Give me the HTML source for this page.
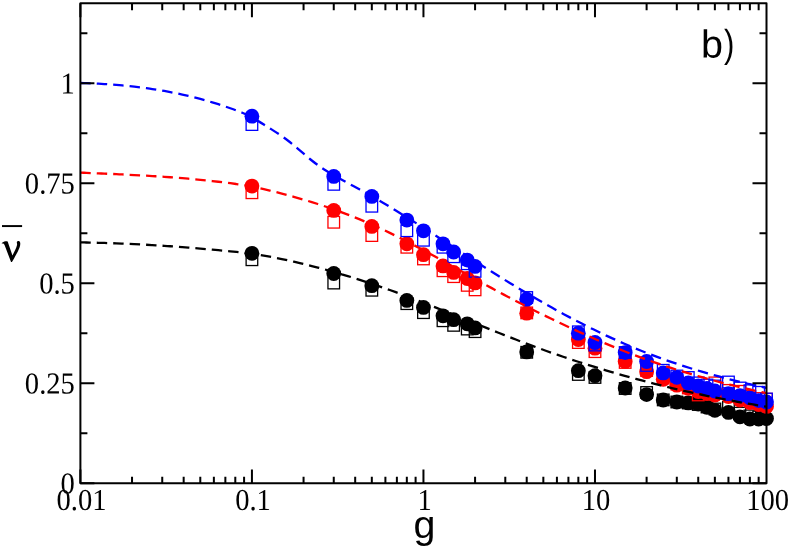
<!DOCTYPE html>
<html><head><meta charset="utf-8"><title>chart</title>
<style>
html,body{margin:0;padding:0;background:#fff;}
body{width:789px;height:548px;overflow:hidden;font-family:"Liberation Sans",sans-serif;}
svg{display:block;opacity:0.999;will-change:transform;}
</style></head><body>
<svg width="789" height="548" viewBox="0 0 789 548">
<rect width="789" height="548" fill="#fff"/>
<g fill="none" stroke="#000000" stroke-width="1.30">
<rect x="246.12" y="253.95" width="11.60" height="11.60"/>
<rect x="327.96" y="277.25" width="11.60" height="11.60"/>
<rect x="366.02" y="284.45" width="11.60" height="11.60"/>
<rect x="401.03" y="297.85" width="11.60" height="11.60"/>
<rect x="417.65" y="306.85" width="11.60" height="11.60"/>
<rect x="437.19" y="314.95" width="11.60" height="11.60"/>
<rect x="447.85" y="319.55" width="11.60" height="11.60"/>
<rect x="461.44" y="323.25" width="11.60" height="11.60"/>
<rect x="469.28" y="325.85" width="11.60" height="11.60"/>
<rect x="520.92" y="346.50" width="11.60" height="11.60"/>
<rect x="572.55" y="368.65" width="11.60" height="11.60"/>
<rect x="589.18" y="371.65" width="11.60" height="11.60"/>
<rect x="619.38" y="382.70" width="11.60" height="11.60"/>
<rect x="640.81" y="386.70" width="11.60" height="11.60"/>
<rect x="657.43" y="394.10" width="11.60" height="11.60"/>
<rect x="671.01" y="396.20" width="11.60" height="11.60"/>
<rect x="682.50" y="397.20" width="11.60" height="11.60"/>
<rect x="692.44" y="398.70" width="11.60" height="11.60"/>
<rect x="701.22" y="401.20" width="11.60" height="11.60"/>
<rect x="709.07" y="403.20" width="11.60" height="11.60"/>
<rect x="722.65" y="401.70" width="11.60" height="11.60"/>
<rect x="734.13" y="407.40" width="11.60" height="11.60"/>
<rect x="744.08" y="410.10" width="11.60" height="11.60"/>
<rect x="752.85" y="411.20" width="11.60" height="11.60"/>
</g>
<g fill="#000000">
<circle cx="251.93" cy="253.30" r="7.40"/>
<circle cx="333.76" cy="273.50" r="7.40"/>
<circle cx="371.82" cy="285.70" r="7.40"/>
<circle cx="406.83" cy="300.40" r="7.40"/>
<circle cx="423.45" cy="307.40" r="7.40"/>
<circle cx="442.99" cy="315.80" r="7.40"/>
<circle cx="453.65" cy="319.70" r="7.40"/>
<circle cx="467.24" cy="323.80" r="7.40"/>
<circle cx="475.08" cy="327.90" r="7.40"/>
<circle cx="526.72" cy="351.90" r="7.40"/>
<circle cx="578.35" cy="370.70" r="7.40"/>
<circle cx="594.98" cy="375.70" r="7.40"/>
<circle cx="625.18" cy="388.00" r="7.40"/>
<circle cx="646.61" cy="394.60" r="7.40"/>
<circle cx="663.23" cy="400.00" r="7.40"/>
<circle cx="676.81" cy="402.00" r="7.40"/>
<circle cx="688.30" cy="402.90" r="7.40"/>
<circle cx="698.24" cy="404.00" r="7.40"/>
<circle cx="707.02" cy="407.30" r="7.40"/>
<circle cx="714.87" cy="410.30" r="7.40"/>
<circle cx="728.45" cy="412.40" r="7.40"/>
<circle cx="739.93" cy="416.80" r="7.40"/>
<circle cx="749.88" cy="419.00" r="7.40"/>
<circle cx="758.65" cy="419.00" r="7.40"/>
<circle cx="766.50" cy="418.50" r="7.40"/>
</g>
<g fill="none" stroke="#ff0000" stroke-width="1.30">
<rect x="246.12" y="186.95" width="11.60" height="11.60"/>
<rect x="327.96" y="216.45" width="11.60" height="11.60"/>
<rect x="366.02" y="229.75" width="11.60" height="11.60"/>
<rect x="401.03" y="241.45" width="11.60" height="11.60"/>
<rect x="417.65" y="253.15" width="11.60" height="11.60"/>
<rect x="437.19" y="264.95" width="11.60" height="11.60"/>
<rect x="447.85" y="270.85" width="11.60" height="11.60"/>
<rect x="461.44" y="279.55" width="11.60" height="11.60"/>
<rect x="469.28" y="284.05" width="11.60" height="11.60"/>
<rect x="520.92" y="307.10" width="11.60" height="11.60"/>
<rect x="572.55" y="336.75" width="11.60" height="11.60"/>
<rect x="589.18" y="345.85" width="11.60" height="11.60"/>
<rect x="619.38" y="356.65" width="11.60" height="11.60"/>
<rect x="640.81" y="364.70" width="11.60" height="11.60"/>
<rect x="657.43" y="372.20" width="11.60" height="11.60"/>
<rect x="671.01" y="378.20" width="11.60" height="11.60"/>
<rect x="682.50" y="382.20" width="11.60" height="11.60"/>
<rect x="692.44" y="389.15" width="11.60" height="11.60"/>
<rect x="701.22" y="386.20" width="11.60" height="11.60"/>
<rect x="709.07" y="377.10" width="11.60" height="11.60"/>
<rect x="722.65" y="384.60" width="11.60" height="11.60"/>
<rect x="734.13" y="385.50" width="11.60" height="11.60"/>
<rect x="744.08" y="390.70" width="11.60" height="11.60"/>
<rect x="752.85" y="392.70" width="11.60" height="11.60"/>
<rect x="760.70" y="393.40" width="11.60" height="11.60"/>
</g>
<g fill="#ff0000">
<circle cx="251.93" cy="186.10" r="7.40"/>
<circle cx="333.76" cy="210.40" r="7.40"/>
<circle cx="371.82" cy="226.40" r="7.40"/>
<circle cx="406.83" cy="243.80" r="7.40"/>
<circle cx="423.45" cy="254.70" r="7.40"/>
<circle cx="442.99" cy="265.90" r="7.40"/>
<circle cx="453.65" cy="272.40" r="7.40"/>
<circle cx="467.24" cy="278.50" r="7.40"/>
<circle cx="475.08" cy="282.90" r="7.40"/>
<circle cx="526.72" cy="313.20" r="7.40"/>
<circle cx="578.35" cy="339.50" r="7.40"/>
<circle cx="594.98" cy="348.20" r="7.40"/>
<circle cx="625.18" cy="361.40" r="7.40"/>
<circle cx="646.61" cy="371.70" r="7.40"/>
<circle cx="663.23" cy="379.30" r="7.40"/>
<circle cx="676.81" cy="385.20" r="7.40"/>
<circle cx="688.30" cy="388.30" r="7.40"/>
<circle cx="698.24" cy="391.50" r="7.40"/>
<circle cx="707.02" cy="393.50" r="7.40"/>
<circle cx="714.87" cy="395.00" r="7.40"/>
<circle cx="728.45" cy="396.50" r="7.40"/>
<circle cx="739.93" cy="400.00" r="7.40"/>
<circle cx="749.88" cy="402.50" r="7.40"/>
<circle cx="758.65" cy="404.50" r="7.40"/>
<circle cx="766.50" cy="406.40" r="7.40"/>
</g>
<g fill="none" stroke="#0000ff" stroke-width="1.30">
<rect x="246.12" y="118.75" width="11.60" height="11.60"/>
<rect x="327.96" y="178.55" width="11.60" height="11.60"/>
<rect x="366.02" y="200.45" width="11.60" height="11.60"/>
<rect x="401.03" y="224.95" width="11.60" height="11.60"/>
<rect x="417.65" y="234.45" width="11.60" height="11.60"/>
<rect x="437.19" y="241.45" width="11.60" height="11.60"/>
<rect x="447.85" y="250.95" width="11.60" height="11.60"/>
<rect x="461.44" y="257.95" width="11.60" height="11.60"/>
<rect x="469.28" y="265.55" width="11.60" height="11.60"/>
<rect x="520.92" y="291.70" width="11.60" height="11.60"/>
<rect x="572.55" y="326.00" width="11.60" height="11.60"/>
<rect x="589.18" y="339.25" width="11.60" height="11.60"/>
<rect x="619.38" y="346.70" width="11.60" height="11.60"/>
<rect x="640.81" y="359.65" width="11.60" height="11.60"/>
<rect x="657.43" y="364.50" width="11.60" height="11.60"/>
<rect x="671.01" y="370.20" width="11.60" height="11.60"/>
<rect x="682.50" y="371.70" width="11.60" height="11.60"/>
<rect x="692.44" y="377.10" width="11.60" height="11.60"/>
<rect x="701.22" y="379.20" width="11.60" height="11.60"/>
<rect x="709.07" y="380.20" width="11.60" height="11.60"/>
<rect x="722.65" y="376.20" width="11.60" height="11.60"/>
<rect x="734.13" y="382.20" width="11.60" height="11.60"/>
<rect x="744.08" y="384.90" width="11.60" height="11.60"/>
<rect x="752.85" y="386.50" width="11.60" height="11.60"/>
<rect x="760.70" y="393.20" width="11.60" height="11.60"/>
</g>
<g fill="#0000ff">
<circle cx="251.93" cy="116.20" r="7.40"/>
<circle cx="333.76" cy="176.40" r="7.40"/>
<circle cx="371.82" cy="196.40" r="7.40"/>
<circle cx="406.83" cy="220.10" r="7.40"/>
<circle cx="423.45" cy="230.80" r="7.40"/>
<circle cx="442.99" cy="243.80" r="7.40"/>
<circle cx="453.65" cy="252.00" r="7.40"/>
<circle cx="467.24" cy="260.10" r="7.40"/>
<circle cx="475.08" cy="266.40" r="7.40"/>
<circle cx="526.72" cy="299.20" r="7.40"/>
<circle cx="578.35" cy="333.20" r="7.40"/>
<circle cx="594.98" cy="342.50" r="7.40"/>
<circle cx="625.18" cy="352.60" r="7.40"/>
<circle cx="646.61" cy="361.50" r="7.40"/>
<circle cx="663.23" cy="372.90" r="7.40"/>
<circle cx="676.81" cy="377.30" r="7.40"/>
<circle cx="688.30" cy="383.00" r="7.40"/>
<circle cx="698.24" cy="386.00" r="7.40"/>
<circle cx="707.02" cy="388.50" r="7.40"/>
<circle cx="714.87" cy="391.00" r="7.40"/>
<circle cx="728.45" cy="393.70" r="7.40"/>
<circle cx="739.93" cy="395.60" r="7.40"/>
<circle cx="749.88" cy="397.80" r="7.40"/>
<circle cx="758.65" cy="400.60" r="7.40"/>
<circle cx="766.50" cy="402.00" r="7.40"/>
</g>
<path d="M80.30 242.40 C81.30 242.42 84.30 242.47 86.30 242.51 C88.30 242.54 90.30 242.59 92.30 242.63 C94.30 242.68 96.30 242.73 98.30 242.78 C100.30 242.84 102.30 242.89 104.30 242.95 C106.30 243.02 108.30 243.08 110.30 243.15 C112.30 243.22 114.30 243.29 116.30 243.37 C118.30 243.44 120.30 243.52 122.30 243.60 C124.30 243.69 126.30 243.77 128.30 243.86 C130.30 243.95 132.30 244.05 134.30 244.15 C136.30 244.24 138.30 244.34 140.30 244.45 C142.30 244.55 144.30 244.66 146.30 244.77 C148.30 244.88 150.30 245.00 152.30 245.12 C154.30 245.23 156.30 245.36 158.30 245.48 C160.30 245.60 162.30 245.73 164.30 245.86 C166.30 246.00 168.30 246.13 170.30 246.27 C172.30 246.41 174.30 246.55 176.30 246.69 C178.30 246.84 180.30 246.99 182.30 247.14 C184.30 247.29 186.30 247.44 188.30 247.60 C190.30 247.76 192.30 247.92 194.30 248.08 C196.30 248.24 198.30 248.41 200.30 248.58 C202.30 248.75 204.30 248.92 206.30 249.10 C208.30 249.27 210.30 249.45 212.30 249.63 C214.30 249.82 216.30 250.00 218.30 250.19 C220.30 250.38 222.30 250.57 224.30 250.76 C226.30 250.95 228.30 251.15 230.30 251.35 C232.30 251.55 234.30 251.75 236.30 251.96 C238.30 252.16 240.30 252.37 242.30 252.58 C244.30 252.79 246.72 253.05 248.30 253.22 C249.88 253.39 251.22 253.55 251.80 253.61 L251.80 253.61 C252.80 253.77 255.80 254.26 257.80 254.59 C259.80 254.93 261.80 255.27 263.80 255.63 C265.80 255.99 267.80 256.35 269.80 256.73 C271.80 257.10 273.80 257.49 275.80 257.88 C277.80 258.28 279.80 258.68 281.80 259.10 C283.80 259.51 285.80 259.93 287.80 260.37 C289.80 260.80 291.80 261.24 293.80 261.70 C295.80 262.15 297.80 262.61 299.80 263.08 C301.80 263.55 303.80 264.03 305.80 264.52 C307.80 265.01 309.80 265.51 311.80 266.02 C313.80 266.52 315.80 267.04 317.80 267.57 C319.80 268.09 321.80 268.63 323.80 269.17 C325.80 269.71 327.80 270.26 329.80 270.82 C331.80 271.38 333.80 271.95 335.80 272.53 C337.80 273.10 339.80 273.69 341.80 274.28 C343.80 274.87 345.80 275.48 347.80 276.09 C349.80 276.69 351.80 277.31 353.80 277.94 C355.80 278.56 357.80 279.20 359.80 279.84 C361.80 280.48 363.80 281.13 365.80 281.79 C367.80 282.44 369.80 283.11 371.80 283.78 C373.80 284.45 375.80 285.13 377.80 285.82 C379.80 286.51 381.80 287.20 383.80 287.90 C385.80 288.61 387.80 289.31 389.80 290.03 C391.80 290.75 393.80 291.47 395.80 292.20 C397.80 292.93 399.80 293.67 401.80 294.41 C403.80 295.15 405.80 295.90 407.80 296.66 C409.80 297.41 411.80 298.17 413.80 298.94 C415.80 299.71 417.80 300.48 419.80 301.25 C421.80 302.03 423.80 302.81 425.80 303.59 C427.80 304.37 429.80 305.16 431.80 305.95 C433.80 306.74 435.80 307.54 437.80 308.33 C439.80 309.13 441.80 309.93 443.80 310.73 C445.80 311.53 447.80 312.34 449.80 313.14 C451.80 313.95 453.80 314.75 455.80 315.56 C457.80 316.37 459.80 317.18 461.80 317.99 C463.80 318.80 465.80 319.61 467.80 320.42 C469.80 321.23 471.80 322.04 473.80 322.85 C475.80 323.66 477.80 324.47 479.80 325.27 C481.80 326.08 483.80 326.89 485.80 327.69 C487.80 328.50 489.80 329.30 491.80 330.10 C493.80 330.90 495.80 331.70 497.80 332.49 C499.80 333.28 501.80 334.08 503.80 334.86 C505.80 335.65 507.80 336.44 509.80 337.22 C511.80 338.00 513.80 338.77 515.80 339.55 C517.80 340.32 519.80 341.09 521.80 341.85 C523.80 342.61 525.80 343.37 527.80 344.12 C529.80 344.87 531.80 345.61 533.80 346.35 C535.80 347.09 537.80 347.82 539.80 348.55 C541.80 349.27 543.80 349.99 545.80 350.71 C547.80 351.42 549.80 352.13 551.80 352.83 C553.80 353.53 555.80 354.23 557.80 354.92 C559.80 355.61 561.80 356.29 563.80 356.97 C565.80 357.65 567.80 358.32 569.80 358.99 C571.80 359.66 573.80 360.32 575.80 360.97 C577.80 361.63 579.80 362.27 581.80 362.92 C583.80 363.56 585.80 364.20 587.80 364.83 C589.80 365.46 591.80 366.08 593.80 366.70 C595.80 367.32 597.80 367.94 599.80 368.54 C601.80 369.15 603.80 369.75 605.80 370.35 C607.80 370.95 609.80 371.54 611.80 372.12 C613.80 372.71 615.80 373.29 617.80 373.86 C619.80 374.44 621.80 375.01 623.80 375.57 C625.80 376.13 627.80 376.69 629.80 377.24 C631.80 377.79 633.80 378.34 635.80 378.88 C637.80 379.42 639.80 379.95 641.80 380.48 C643.80 381.01 645.80 381.54 647.80 382.05 C649.80 382.57 651.80 383.09 653.80 383.59 C655.80 384.10 657.80 384.60 659.80 385.10 C661.80 385.60 663.80 386.09 665.80 386.57 C667.80 387.06 669.80 387.54 671.80 388.02 C673.80 388.49 675.80 388.96 677.80 389.43 C679.80 389.89 681.80 390.35 683.80 390.80 C685.80 391.26 687.80 391.71 689.80 392.15 C691.80 392.60 693.80 393.03 695.80 393.47 C697.80 393.90 699.80 394.33 701.80 394.75 C703.80 395.18 705.80 395.59 707.80 396.01 C709.80 396.42 711.80 396.83 713.80 397.23 C715.80 397.63 717.80 398.03 719.80 398.42 C721.80 398.82 723.80 399.20 725.80 399.59 C727.80 399.97 729.80 400.35 731.80 400.72 C733.80 401.09 735.80 401.46 737.80 401.82 C739.80 402.19 741.80 402.54 743.80 402.90 C745.80 403.25 747.80 403.60 749.80 403.94 C751.80 404.28 753.80 404.62 755.80 404.96 C757.80 405.29 760.03 405.65 761.80 405.94 C763.57 406.23 765.63 406.56 766.40 406.68" fill="none" stroke="#000000" stroke-width="2.30" stroke-dasharray="10.44 6.02" stroke-dashoffset="0"/>
<path d="M80.30 172.60 C81.30 172.64 84.30 172.76 86.30 172.85 C88.30 172.93 90.30 173.01 92.30 173.10 C94.30 173.18 96.30 173.27 98.30 173.35 C100.30 173.44 102.30 173.52 104.30 173.61 C106.30 173.70 108.30 173.78 110.30 173.87 C112.30 173.96 114.30 174.05 116.30 174.15 C118.30 174.24 120.30 174.34 122.30 174.43 C124.30 174.53 126.30 174.63 128.30 174.73 C130.30 174.83 132.30 174.93 134.30 175.04 C136.30 175.14 138.30 175.25 140.30 175.36 C142.30 175.47 144.30 175.59 146.30 175.70 C148.30 175.82 150.30 175.94 152.30 176.06 C154.30 176.19 156.30 176.31 158.30 176.44 C160.30 176.57 162.30 176.71 164.30 176.85 C166.30 176.99 168.30 177.13 170.30 177.27 C172.30 177.42 174.30 177.57 176.30 177.73 C178.30 177.88 180.30 178.04 182.30 178.20 C184.30 178.37 186.30 178.54 188.30 178.71 C190.30 178.89 192.30 179.07 194.30 179.25 C196.30 179.44 198.30 179.63 200.30 179.82 C202.30 180.02 204.30 180.22 206.30 180.43 C208.30 180.63 210.30 180.85 212.30 181.07 C214.30 181.29 216.30 181.51 218.30 181.75 C220.30 181.98 222.30 182.22 224.30 182.46 C226.30 182.71 228.30 182.96 230.30 183.22 C232.30 183.48 234.30 183.75 236.30 184.02 C238.30 184.29 240.30 184.57 242.30 184.86 C244.30 185.15 246.72 185.51 248.30 185.75 C249.88 185.99 251.22 186.20 251.80 186.30 L251.80 186.30 C252.80 186.53 255.80 187.21 257.80 187.68 C259.80 188.15 261.80 188.62 263.80 189.10 C265.80 189.58 267.80 190.06 269.80 190.55 C271.80 191.05 273.80 191.55 275.80 192.05 C277.80 192.56 279.80 193.07 281.80 193.60 C283.80 194.12 285.80 194.65 287.80 195.19 C289.80 195.73 291.80 196.28 293.80 196.84 C295.80 197.39 297.80 197.96 299.80 198.54 C301.80 199.12 303.80 199.70 305.80 200.30 C307.80 200.90 309.80 201.51 311.80 202.13 C313.80 202.75 315.80 203.38 317.80 204.02 C319.80 204.66 321.80 205.32 323.80 205.99 C325.80 206.65 327.80 207.33 329.80 208.02 C331.80 208.71 333.80 209.42 335.80 210.14 C337.80 210.85 339.80 211.58 341.80 212.33 C343.80 213.07 345.80 213.83 347.80 214.60 C349.80 215.37 351.80 216.15 353.80 216.95 C355.80 217.75 357.80 218.56 359.80 219.39 C361.80 220.22 363.80 221.06 365.80 221.91 C367.80 222.77 369.80 223.64 371.80 224.53 C373.80 225.42 375.80 226.32 377.80 227.24 C379.80 228.16 381.80 229.09 383.80 230.03 C385.80 230.98 387.80 231.94 389.80 232.91 C391.80 233.88 393.80 234.86 395.80 235.86 C397.80 236.85 399.80 237.86 401.80 238.88 C403.80 239.89 405.80 240.92 407.80 241.96 C409.80 242.99 411.80 244.04 413.80 245.09 C415.80 246.14 417.80 247.21 419.80 248.28 C421.80 249.35 423.80 250.42 425.80 251.50 C427.80 252.59 429.80 253.68 431.80 254.77 C433.80 255.86 435.80 256.96 437.80 258.07 C439.80 259.17 441.80 260.28 443.80 261.39 C445.80 262.50 447.80 263.61 449.80 264.73 C451.80 265.85 453.80 266.97 455.80 268.08 C457.80 269.20 459.80 270.32 461.80 271.44 C463.80 272.56 465.80 273.69 467.80 274.81 C469.80 275.92 471.80 277.04 473.80 278.16 C475.80 279.28 477.80 280.39 479.80 281.50 C481.80 282.61 483.80 283.72 485.80 284.83 C487.80 285.93 489.80 287.03 491.80 288.13 C493.80 289.22 495.80 290.32 497.80 291.40 C499.80 292.48 501.80 293.56 503.80 294.63 C505.80 295.71 507.80 296.77 509.80 297.83 C511.80 298.88 513.80 299.93 515.80 300.97 C517.80 302.02 519.80 303.05 521.80 304.08 C523.80 305.11 525.80 306.13 527.80 307.15 C529.80 308.16 531.80 309.17 533.80 310.17 C535.80 311.17 537.80 312.17 539.80 313.16 C541.80 314.15 543.80 315.13 545.80 316.11 C547.80 317.09 549.80 318.06 551.80 319.02 C553.80 319.99 555.80 320.95 557.80 321.90 C559.80 322.85 561.80 323.80 563.80 324.75 C565.80 325.69 567.80 326.63 569.80 327.56 C571.80 328.49 573.80 329.42 575.80 330.34 C577.80 331.25 579.80 332.17 581.80 333.08 C583.80 333.98 585.80 334.88 587.80 335.77 C589.80 336.67 591.80 337.55 593.80 338.43 C595.80 339.31 597.80 340.18 599.80 341.04 C601.80 341.91 603.80 342.76 605.80 343.61 C607.80 344.45 609.80 345.29 611.80 346.12 C613.80 346.95 615.80 347.77 617.80 348.57 C619.80 349.38 621.80 350.19 623.80 350.98 C625.80 351.77 627.80 352.55 629.80 353.32 C631.80 354.09 633.80 354.85 635.80 355.60 C637.80 356.35 639.80 357.09 641.80 357.83 C643.80 358.56 645.80 359.28 647.80 360.00 C649.80 360.71 651.80 361.42 653.80 362.11 C655.80 362.81 657.80 363.49 659.80 364.17 C661.80 364.85 663.80 365.52 665.80 366.18 C667.80 366.84 669.80 367.49 671.80 368.14 C673.80 368.78 675.80 369.42 677.80 370.05 C679.80 370.67 681.80 371.29 683.80 371.90 C685.80 372.52 687.80 373.12 689.80 373.71 C691.80 374.31 693.80 374.90 695.80 375.48 C697.80 376.06 699.80 376.63 701.80 377.20 C703.80 377.76 705.80 378.32 707.80 378.87 C709.80 379.42 711.80 379.97 713.80 380.50 C715.80 381.04 717.80 381.57 719.80 382.09 C721.80 382.62 723.80 383.13 725.80 383.64 C727.80 384.15 729.80 384.65 731.80 385.15 C733.80 385.65 735.80 386.14 737.80 386.62 C739.80 387.11 741.80 387.59 743.80 388.06 C745.80 388.53 747.80 389.00 749.80 389.46 C751.80 389.92 753.80 390.37 755.80 390.82 C757.80 391.27 760.03 391.76 761.80 392.15 C763.57 392.54 765.63 392.99 766.40 393.15" fill="none" stroke="#ff0000" stroke-width="2.30" stroke-dasharray="10.44 6.02" stroke-dashoffset="0"/>
<path d="M80.30 83.00 C81.30 83.03 84.30 83.11 86.30 83.18 C88.30 83.25 90.30 83.33 92.30 83.41 C94.30 83.50 96.30 83.59 98.30 83.70 C100.30 83.80 102.30 83.91 104.30 84.04 C106.30 84.16 108.30 84.29 110.30 84.43 C112.30 84.57 114.30 84.73 116.30 84.89 C118.30 85.05 120.30 85.22 122.30 85.41 C124.30 85.59 126.30 85.78 128.30 85.99 C130.30 86.19 132.30 86.41 134.30 86.64 C136.30 86.87 138.30 87.11 140.30 87.36 C142.30 87.61 144.30 87.87 146.30 88.15 C148.30 88.43 150.30 88.71 152.30 89.02 C154.30 89.32 156.30 89.63 158.30 89.96 C160.30 90.29 162.30 90.63 164.30 90.99 C166.30 91.34 168.30 91.71 170.30 92.09 C172.30 92.48 174.30 92.87 176.30 93.28 C178.30 93.70 180.30 94.12 182.30 94.56 C184.30 95.01 186.30 95.46 188.30 95.93 C190.30 96.41 192.30 96.89 194.30 97.40 C196.30 97.90 198.30 98.42 200.30 98.95 C202.30 99.49 204.30 100.04 206.30 100.61 C208.30 101.18 210.30 101.76 212.30 102.36 C214.30 102.97 216.30 103.59 218.30 104.22 C220.30 104.86 222.30 105.51 224.30 106.19 C226.30 106.86 228.30 107.55 230.30 108.26 C232.30 108.97 234.30 109.69 236.30 110.44 C238.30 111.19 240.30 111.95 242.30 112.74 C244.30 113.52 246.72 114.50 248.30 115.15 C249.88 115.79 251.22 116.36 251.80 116.61 L251.80 116.61 C252.80 117.29 255.80 119.37 257.80 120.69 C259.80 122.01 261.80 123.27 263.80 124.53 C265.80 125.80 267.80 127.03 269.80 128.29 C271.80 129.55 273.80 130.79 275.80 132.10 C277.80 133.40 279.80 134.72 281.80 136.11 C283.80 137.51 285.80 138.95 287.80 140.48 C289.80 142.01 291.80 143.64 293.80 145.29 C295.80 146.94 297.80 148.68 299.80 150.39 C301.80 152.10 303.80 153.85 305.80 155.54 C307.80 157.22 309.80 158.91 311.80 160.50 C313.80 162.09 315.80 163.62 317.80 165.07 C319.80 166.52 321.80 167.88 323.80 169.21 C325.80 170.53 327.80 171.78 329.80 172.99 C331.80 174.21 333.80 175.37 335.80 176.51 C337.80 177.66 339.80 178.76 341.80 179.85 C343.80 180.94 345.80 182.01 347.80 183.08 C349.80 184.15 351.80 185.21 353.80 186.28 C355.80 187.36 357.80 188.44 359.80 189.54 C361.80 190.63 363.80 191.75 365.80 192.87 C367.80 193.99 369.80 195.12 371.80 196.27 C373.80 197.41 375.80 198.57 377.80 199.74 C379.80 200.90 381.80 202.08 383.80 203.26 C385.80 204.45 387.80 205.64 389.80 206.85 C391.80 208.05 393.80 209.26 395.80 210.48 C397.80 211.70 399.80 212.93 401.80 214.17 C403.80 215.40 405.80 216.64 407.80 217.89 C409.80 219.14 411.80 220.39 413.80 221.65 C415.80 222.91 417.80 224.18 419.80 225.45 C421.80 226.72 423.80 227.99 425.80 229.27 C427.80 230.55 429.80 231.83 431.80 233.11 C433.80 234.40 435.80 235.69 437.80 236.98 C439.80 238.27 441.80 239.56 443.80 240.85 C445.80 242.15 447.80 243.44 449.80 244.74 C451.80 246.03 453.80 247.33 455.80 248.63 C457.80 249.92 459.80 251.22 461.80 252.51 C463.80 253.81 465.80 255.10 467.80 256.39 C469.80 257.68 471.80 258.97 473.80 260.26 C475.80 261.55 477.80 262.83 479.80 264.12 C481.80 265.40 483.80 266.68 485.80 267.95 C487.80 269.22 489.80 270.49 491.80 271.76 C493.80 273.02 495.80 274.28 497.80 275.54 C499.80 276.79 501.80 278.04 503.80 279.28 C505.80 280.52 507.80 281.75 509.80 282.98 C511.80 284.21 513.80 285.43 515.80 286.64 C517.80 287.85 519.80 289.06 521.80 290.26 C523.80 291.45 525.80 292.64 527.80 293.82 C529.80 295.00 531.80 296.18 533.80 297.34 C535.80 298.51 537.80 299.66 539.80 300.81 C541.80 301.96 543.80 303.10 545.80 304.23 C547.80 305.36 549.80 306.48 551.80 307.59 C553.80 308.71 555.80 309.81 557.80 310.91 C559.80 312.00 561.80 313.09 563.80 314.17 C565.80 315.24 567.80 316.31 569.80 317.37 C571.80 318.43 573.80 319.48 575.80 320.51 C577.80 321.55 579.80 322.58 581.80 323.60 C583.80 324.62 585.80 325.63 587.80 326.63 C589.80 327.63 591.80 328.62 593.80 329.59 C595.80 330.57 597.80 331.54 599.80 332.50 C601.80 333.46 603.80 334.40 605.80 335.34 C607.80 336.28 609.80 337.20 611.80 338.12 C613.80 339.03 615.80 339.93 617.80 340.83 C619.80 341.72 621.80 342.60 623.80 343.47 C625.80 344.34 627.80 345.20 629.80 346.04 C631.80 346.89 633.80 347.72 635.80 348.55 C637.80 349.37 639.80 350.18 641.80 350.98 C643.80 351.78 645.80 352.57 647.80 353.34 C649.80 354.12 651.80 354.88 653.80 355.63 C655.80 356.39 657.80 357.13 659.80 357.86 C661.80 358.59 663.80 359.31 665.80 360.02 C667.80 360.72 669.80 361.42 671.80 362.11 C673.80 362.80 675.80 363.47 677.80 364.14 C679.80 364.81 681.80 365.46 683.80 366.11 C685.80 366.76 687.80 367.39 689.80 368.02 C691.80 368.65 693.80 369.26 695.80 369.87 C697.80 370.48 699.80 371.08 701.80 371.67 C703.80 372.25 705.80 372.83 707.80 373.41 C709.80 373.98 711.80 374.54 713.80 375.09 C715.80 375.65 717.80 376.19 719.80 376.73 C721.80 377.27 723.80 377.79 725.80 378.32 C727.80 378.84 729.80 379.35 731.80 379.85 C733.80 380.36 735.80 380.86 737.80 381.34 C739.80 381.83 741.80 382.32 743.80 382.79 C745.80 383.27 747.80 383.73 749.80 384.20 C751.80 384.66 753.80 385.11 755.80 385.56 C757.80 386.01 760.03 386.50 761.80 386.88 C763.57 387.27 765.63 387.70 766.40 387.87" fill="none" stroke="#0000ff" stroke-width="2.30" stroke-dasharray="10.44 6.02" stroke-dashoffset="0"/>
<path d="M80.40 483.20 v-13.60 M80.40 3.20 v14.00 M132.03 483.20 v-6.55 M132.03 3.20 v7.00 M162.24 483.20 v-6.55 M162.24 3.20 v7.00 M183.67 483.20 v-6.55 M183.67 3.20 v7.00 M200.29 483.20 v-6.55 M200.29 3.20 v7.00 M213.87 483.20 v-6.55 M213.87 3.20 v7.00 M225.36 483.20 v-6.55 M225.36 3.20 v7.00 M235.30 483.20 v-6.55 M235.30 3.20 v7.00 M244.08 483.20 v-6.55 M244.08 3.20 v7.00 M251.93 483.20 v-13.60 M251.93 3.20 v14.00 M303.56 483.20 v-6.55 M303.56 3.20 v7.00 M333.76 483.20 v-6.55 M333.76 3.20 v7.00 M355.19 483.20 v-6.55 M355.19 3.20 v7.00 M371.82 483.20 v-6.55 M371.82 3.20 v7.00 M385.40 483.20 v-6.55 M385.40 3.20 v7.00 M396.88 483.20 v-6.55 M396.88 3.20 v7.00 M406.83 483.20 v-6.55 M406.83 3.20 v7.00 M415.60 483.20 v-6.55 M415.60 3.20 v7.00 M423.45 483.20 v-13.60 M423.45 3.20 v14.00 M475.08 483.20 v-6.55 M475.08 3.20 v7.00 M505.29 483.20 v-6.55 M505.29 3.20 v7.00 M526.72 483.20 v-6.55 M526.72 3.20 v7.00 M543.34 483.20 v-6.55 M543.34 3.20 v7.00 M556.92 483.20 v-6.55 M556.92 3.20 v7.00 M568.41 483.20 v-6.55 M568.41 3.20 v7.00 M578.35 483.20 v-6.55 M578.35 3.20 v7.00 M587.13 483.20 v-6.55 M587.13 3.20 v7.00 M594.98 483.20 v-13.60 M594.98 3.20 v14.00 M646.61 483.20 v-6.55 M646.61 3.20 v7.00 M676.81 483.20 v-6.55 M676.81 3.20 v7.00 M698.24 483.20 v-6.55 M698.24 3.20 v7.00 M714.87 483.20 v-6.55 M714.87 3.20 v7.00 M728.45 483.20 v-6.55 M728.45 3.20 v7.00 M739.93 483.20 v-6.55 M739.93 3.20 v7.00 M749.88 483.20 v-6.55 M749.88 3.20 v7.00 M758.65 483.20 v-6.55 M758.65 3.20 v7.00 M80.40 483.20 h14.00 M766.50 483.20 h-14.00 M80.40 433.20 h7.00 M766.50 433.20 h-7.00 M80.40 383.20 h14.00 M766.50 383.20 h-14.00 M80.40 333.20 h7.00 M766.50 333.20 h-7.00 M80.40 283.20 h14.00 M766.50 283.20 h-14.00 M80.40 233.20 h7.00 M766.50 233.20 h-7.00 M80.40 183.20 h14.00 M766.50 183.20 h-14.00 M80.40 133.20 h7.00 M766.50 133.20 h-7.00 M80.40 83.20 h14.00 M766.50 83.20 h-14.00 M80.40 33.20 h7.00 M766.50 33.20 h-7.00" fill="none" stroke="#000" stroke-width="2.00"/>
<rect x="80.40" y="3.20" width="686.10" height="480.00" fill="none" stroke="#000" stroke-width="2.00" stroke-linejoin="round"/>
<g font-family="'Liberation Serif', serif" font-size="28.6px" fill="#000">
<text transform="translate(81.50 509.95) rotate(0.03) scale(1 1.065)" text-anchor="middle">0.01</text>
<text transform="translate(253.03 509.95) rotate(0.03) scale(1 1.065)" text-anchor="middle">0.1</text>
<text transform="translate(424.55 509.95) rotate(0.03) scale(1 1.065)" text-anchor="middle">1</text>
<text transform="translate(596.08 509.95) rotate(0.03) scale(1 1.065)" text-anchor="middle">10</text>
<text transform="translate(767.60 509.95) rotate(0.03) scale(1 1.065)" text-anchor="middle">100</text>
<text transform="translate(74.9 493.45) rotate(0.03) scale(1 1.065)" text-anchor="end">0</text>
<text transform="translate(74.9 393.45) rotate(0.03) scale(1 1.065)" text-anchor="end">0.25</text>
<text transform="translate(74.9 293.45) rotate(0.03) scale(1 1.065)" text-anchor="end">0.5</text>
<text transform="translate(74.9 193.45) rotate(0.03) scale(1 1.065)" text-anchor="end">0.75</text>
<text transform="translate(74.9 93.45) rotate(0.03) scale(1 1.065)" text-anchor="end">1</text>
</g>
<g font-family="'Liberation Sans', sans-serif" font-size="39px" fill="#000">
<text x="424.4" y="537.6" text-anchor="middle" font-size="39.4px">g</text>
<text transform="translate(701.0 57.4) rotate(0.03) scale(1 0.985)" font-size="39.5px">b</text>
<text transform="translate(724.0 57.4) rotate(0.03) scale(0.8 1)" font-size="39px">)</text>
</g>
<path transform="translate(0,220) scale(0.08772)" d="M18 270 C30 252 45 244 62 243 L84 243 C90 250 92 258 96 270 L142 405 C165 360 188 318 194 285 C197 268 190 258 192 250 C196 240 212 236 224 246 C236 258 232 290 222 315 C205 360 165 430 136 480 L126 480 L52 285 C46 270 36 262 18 270 Z" fill="#000"/>
<rect x="2.0" y="225.1" width="20.1" height="1.95" fill="#000"/>
</svg>
</body></html>
